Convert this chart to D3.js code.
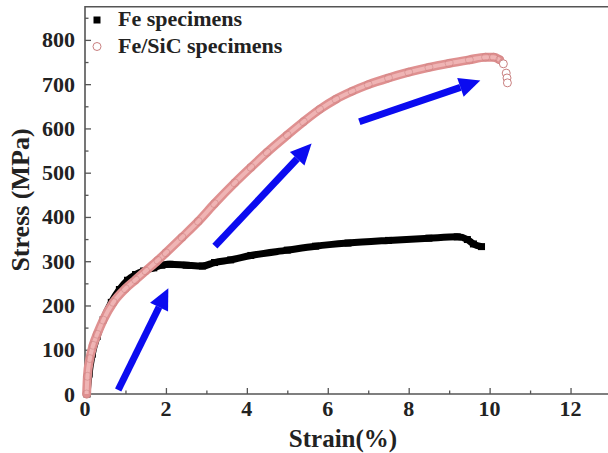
<!DOCTYPE html>
<html>
<head>
<meta charset="utf-8">
<script src="https://cdn.jsdelivr.net/npm/d3@7"></script>
<style>
  html, body { margin: 0; padding: 0; background: #fff; }
  svg { display: block; font-family: "Liberation Serif", "Times New Roman", serif; font-weight: bold; }
</style>
</head>
<body>
<div id="chart"></div>
<script>
// stress-strain curves: [strain %, stress MPa]
const feStrain = [0.05, 0.1, 0.18, 0.3, 0.45, 0.65, 0.85, 1.05, 1.25, 1.45, 1.7, 1.9, 2.1, 2.5, 2.9, 3.2, 3.6, 4.1, 5.0, 5.7, 6.5, 7.5, 8.5, 9.2, 9.45, 9.6, 9.8];
const feStress = [0, 45, 90, 130, 168, 207, 236, 257, 270, 278, 285, 291, 293, 291, 289, 297, 303, 313, 325, 334, 341, 347, 352, 355, 349, 339, 333];

const sicStrain = [0.04, 0.06, 0.12, 0.2, 0.3, 0.45, 0.7, 1.0, 1.25, 1.5, 1.8, 2.0, 2.4, 2.8, 3.2, 3.7, 4.1, 4.5, 5.0, 5.4, 5.8, 6.2, 6.6, 7.0, 7.5, 8.0, 8.5, 9.0, 9.5, 9.9, 10.1, 10.25];
const sicStress = [0, 40, 80, 110, 135, 167, 207, 238, 258, 278, 302, 319, 354, 390, 430, 477, 512, 546, 585, 615, 643, 666, 684, 699, 714, 727, 738, 747, 755, 761, 761, 755];
// loose circles after fracture
const sicTailStrain = [10.34, 10.41, 10.43, 10.44];
const sicTailStress = [746, 725, 714, 703];

// blue annotation arrows: tail -> tip
const arrows = [
  { x1: 0.82, y1: 9, x2: 2.06, y2: 239 },
  { x1: 3.21, y1: 334, x2: 5.6, y2: 566 },
  { x1: 6.78, y1: 615, x2: 9.77, y2: 708 }
];

const xTicks = [0, 2, 4, 6, 8, 10, 12];
const yTicks = [0, 100, 200, 300, 400, 500, 600, 700, 800];

const W = 608, H = 453;
const plotLeft = 85, plotRight = 611, plotTop = 6.7, plotBottom = 394;

const x = d3.scaleLinear().domain([0, 13]).range([plotLeft, plotRight]);
const y = d3.scaleLinear().domain([0, 875]).range([plotBottom, plotTop]);

const svg = d3.select('#chart').append('svg')
  .attr('width', W)
  .attr('height', H);

const axisColor = '#555';

// axes with inward ticks
const xAxis = svg.append('g')
  .attr('transform', `translate(0,${plotBottom})`)
  .call(d3.axisBottom(x).tickValues(d3.range(0, 13, 1)).tickSize(-6).tickFormat(''));
xAxis.selectAll('.tick line')
  .attr('y2', (d) => d % 2 === 0 ? -6 : -3.5);

const yAxis = svg.append('g')
  .attr('transform', `translate(${plotLeft},0)`)
  .call(d3.axisLeft(y).tickValues(d3.range(0, 876, 50)).tickSize(-6).tickFormat(''));
yAxis.selectAll('.tick line')
  .attr('x2', (d) => d % 100 === 0 ? 6 : 3.5);

svg.selectAll('.domain').remove();
svg.selectAll('.tick line').attr('stroke', axisColor).attr('stroke-width', 1.3);

// frame: left, bottom, top (right edge falls off the canvas)
svg.append('path')
  .attr('d', `M${plotRight},${plotTop}H${plotLeft}V${plotBottom}H${plotRight}`)
  .attr('fill', 'none')
  .attr('stroke', axisColor)
  .attr('stroke-width', 1.6);

// tick labels
svg.append('g').selectAll('text')
  .data(xTicks)
  .enter()
  .append('text')
  .attr('x', (d) => x(d))
  .attr('y', 416)
  .attr('text-anchor', 'middle')
  .attr('font-size', 22)
  .attr('fill', '#222')
  .text((d) => d);

svg.append('g').selectAll('text')
  .data(yTicks)
  .enter()
  .append('text')
  .attr('x', 75)
  .attr('y', (d) => y(d) + 7.5)
  .attr('text-anchor', 'end')
  .attr('font-size', 22)
  .attr('fill', '#222')
  .text((d) => d);

// axis titles
svg.append('text')
  .attr('x', 343)
  .attr('y', 447)
  .attr('text-anchor', 'middle')
  .attr('font-size', 25)
  .attr('fill', '#222')
  .text('Strain(%)');

svg.append('text')
  .attr('transform', 'translate(29,200) rotate(-90)')
  .attr('text-anchor', 'middle')
  .attr('font-size', 26)
  .attr('fill', '#222')
  .text('Stress (MPa)');

const line = d3.line()
  .x((d) => x(d[0]))
  .y((d) => y(d[1]))
  .curve(d3.curveMonotoneX);

const fe = feStrain.map((s, i) => [s, feStress[i]]);
const sic = sicStrain.map((s, i) => [s, sicStress[i]]);
const sicTail = sicTailStrain.map((s, i) => [s, sicTailStress[i]]);

// Fe: dense filled squares appear as a thick black band
svg.append('path')
  .datum(fe)
  .attr('d', line)
  .attr('fill', 'none')
  .attr('stroke', '#000')
  .attr('stroke-width', 7)
  .attr('stroke-linejoin', 'round');
svg.append('g').selectAll('rect')
  .data(fe)
  .enter()
  .append('rect')
  .attr('x', (d) => x(d[0]) - 3.5)
  .attr('y', (d) => y(d[1]) - 3.5)
  .attr('width', 7)
  .attr('height', 7)
  .attr('fill', '#000');

// Fe/SiC: dense open circles appear as a pink band, drawn over Fe
svg.append('path')
  .datum(sic)
  .attr('d', line)
  .attr('fill', 'none')
  .attr('stroke', '#df9090')
  .attr('stroke-width', 9)
  .attr('stroke-linecap', 'round');
svg.append('path')
  .datum(sic)
  .attr('d', line)
  .attr('fill', 'none')
  .attr('stroke', '#efb4b4')
  .attr('stroke-width', 4);
svg.append('g').selectAll('circle')
  .data(sic.concat(sicTail))
  .enter()
  .append('circle')
  .attr('cx', (d) => x(d[0]))
  .attr('cy', (d) => y(d[1]))
  .attr('r', 4)
  .attr('fill', (d, i) => i >= sic.length ? '#fff' : 'none')
  .attr('stroke', '#c98080')
  .attr('stroke-opacity', (d, i) => i >= sic.length ? 1 : 0.5)
  .attr('stroke-width', 1);

// blue arrows
const blue = '#0b0bf0';
arrows.forEach((a) => {
  const x1 = x(a.x1), y1 = y(a.y1), x2 = x(a.x2), y2 = y(a.y2);
  const ang = Math.atan2(y2 - y1, x2 - x1);
  const headLen = 21, headHalf = 10;
  const bx = x2 - headLen * Math.cos(ang), by = y2 - headLen * Math.sin(ang);
  svg.append('line')
    .attr('x1', x1).attr('y1', y1)
    .attr('x2', bx).attr('y2', by)
    .attr('stroke', blue)
    .attr('stroke-width', 7);
  const px = -Math.sin(ang) * headHalf, py = Math.cos(ang) * headHalf;
  svg.append('path')
    .attr('d', `M${x2},${y2}L${bx + px},${by + py}L${bx - px},${by - py}Z`)
    .attr('fill', blue);
});

// legend
svg.append('rect')
  .attr('x', 93.5).attr('y', 16.5)
  .attr('width', 7).attr('height', 7)
  .attr('fill', '#000');
svg.append('circle')
  .attr('cx', 97).attr('cy', 46.5).attr('r', 4)
  .attr('fill', '#fff')
  .attr('stroke', '#c98080')
  .attr('stroke-width', 1);

svg.append('text')
  .attr('x', 118).attr('y', 26)
  .attr('font-size', 22)
  .attr('fill', '#222')
  .text('Fe specimens');
svg.append('text')
  .attr('x', 118).attr('y', 53)
  .attr('font-size', 22)
  .attr('fill', '#222')
  .text('Fe/SiC specimens');
</script>
</body>
</html>
